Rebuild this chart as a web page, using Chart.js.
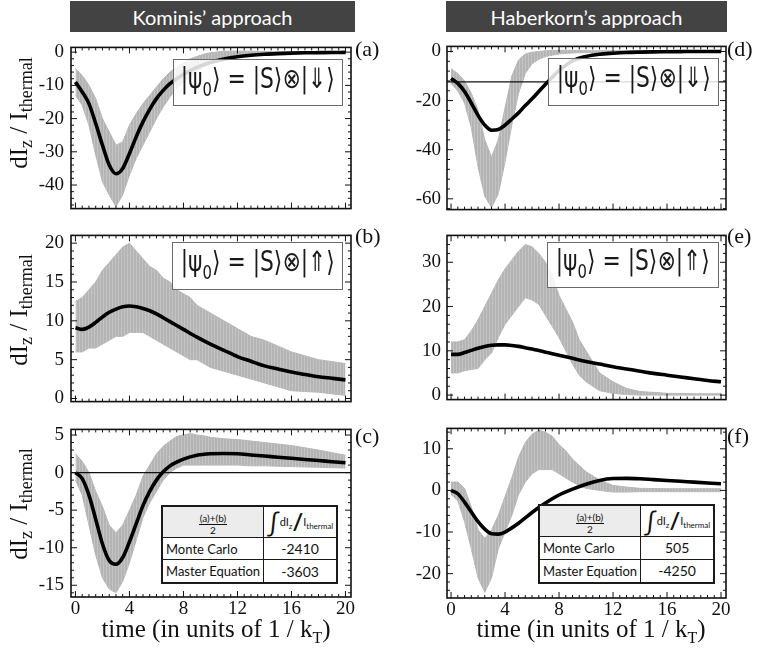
<!DOCTYPE html>
<html>
<head>
<meta charset="utf-8">
<script src="https://cdn.jsdelivr.net/npm/chart.js@4.4.1/dist/chart.umd.min.js"></script>
<style>
body { margin: 0; background: #fff; }
#fig { position: relative; width: 762px; height: 656px; overflow: hidden; background: #fff; }
#fig canvas { position: absolute; }
.head { position: absolute; top: 1px; height: 31px; background: #434343; color: #fff;
        font: 20px Lato, sans-serif; display: flex; align-items: center; justify-content: center; }
.plab { position: absolute; font: 22px "Liberation Serif", serif; line-height: 1; color: #111; }
.ytit { position: absolute; font: 25px "Liberation Serif", serif; white-space: nowrap; color: #111;
        transform: translate(-50%, -50%) rotate(-90deg); line-height: 1; }
.ytit sub { font-size: 18px; vertical-align: -5px; }
.xtit { position: absolute; font: 25px "Liberation Serif", serif; white-space: nowrap; color: #111;
        transform: translate(-50%, -50%); line-height: 1; }
.xtit sub { font-size: 16px; vertical-align: -6px; }
.ket { position: absolute; box-sizing: border-box; border: 1px solid #6a6a6a; background: rgba(255,255,255,0.84);
       display: flex; align-items: center; justify-content: center; overflow: hidden; }
.ket span.k { display: inline-block; font: 28px "DejaVu Sans", sans-serif; white-space: nowrap; color: #1a1a1a;
              transform: scaleX(0.78); line-height: 1; margin-top: -2px; }
.ket sub { font-size: 19px; vertical-align: -8px; }
table.res { position: absolute; border-collapse: collapse; border: 2px solid #1a1a1a; background: #fff;
            font: 13px Lato, sans-serif; color: #111; }
table.res td { border: 1.5px solid #1a1a1a; padding: 0 3px; white-space: nowrap; }
table.res td.hd { background: #ececec; text-align: center; }
table.res td.v { text-align: center; font-size: 14px; }
.frac { display: inline-flex; flex-direction: column; align-items: center; font-size: 10px; line-height: 1.1; }
.frac .num { border-bottom: 1px solid #111; padding: 0 1px; }
.intg { font-size: 11px; }
.intg .ig { font-size: 25px; vertical-align: -6px; }
.intg .sl { font-size: 23px; font-weight: bold; vertical-align: -4px; }
.intg sub { font-size: 8px; }
</style>
</head>
<body>
<div id="fig">
  <div class="head" style="left:70px;width:285px">Kominis’ approach</div>
  <div class="head" style="left:446px;width:281px">Haberkorn’s approach</div>

  <canvas id="ca"></canvas>
  <canvas id="cb"></canvas>
  <canvas id="cc"></canvas>
  <canvas id="cd"></canvas>
  <canvas id="ce"></canvas>
  <canvas id="cf"></canvas>

  <div class="ytit" style="left:20px;top:113px">dI<sub>z</sub> / I<sub>thermal</sub></div>
  <div class="ytit" style="left:20px;top:310px">dI<sub>z</sub> / I<sub>thermal</sub></div>
  <div class="ytit" style="left:20px;top:504px">dI<sub>z</sub> / I<sub>thermal</sub></div>

  <div class="xtit" style="left:216px;top:631px">time (in units of 1 / k<sub>T</sub>)</div>
  <div class="xtit" style="left:591px;top:631px">time (in units of 1 / k<sub>T</sub>)</div>

  <div class="plab" style="left:355px;top:38px">(a)</div>
  <div class="plab" style="left:355px;top:225px">(b)</div>
  <div class="plab" style="left:355px;top:425px">(c)</div>
  <div class="plab" style="left:727px;top:38px">(d)</div>
  <div class="plab" style="left:727px;top:225px">(e)</div>
  <div class="plab" style="left:727px;top:425px">(f)</div>

  <div class="ket" style="left:173px;top:59px;width:170px;height:47px"><span class="k">|ψ<sub>0</sub>⟩ = |S⟩⊗|⇓⟩</span></div>
  <div class="ket" style="left:172px;top:242px;width:171px;height:48px"><span class="k">|ψ<sub>0</sub>⟩ = |S⟩⊗|⇑⟩</span></div>
  <div class="ket" style="left:548px;top:58px;width:171px;height:48px"><span class="k">|ψ<sub>0</sub>⟩ = |S⟩⊗|⇓⟩</span></div>
  <div class="ket" style="left:547px;top:242px;width:172px;height:46px"><span class="k">|ψ<sub>0</sub>⟩ = |S⟩⊗|⇑⟩</span></div>

  <table class="res" style="left:161px;top:505px;width:172px;height:79px">
    <tr style="height:30px"><td class="hd" style="width:84px"><span class="frac"><span class="num">(a)+(b)</span><span>2</span></span></td>
      <td class="intg"><span class="ig">∫</span>dI<sub>z</sub><span class="sl">/</span>I<sub>thermal</sub></td></tr>
    <tr><td>Monte Carlo</td><td class="v">-2410</td></tr>
    <tr><td>Master Equation</td><td class="v">-3603</td></tr>
  </table>
  <table class="res" style="left:538px;top:504px;width:175px;height:80px">
    <tr style="height:31px"><td class="hd" style="width:85px"><span class="frac"><span class="num">(a)+(b)</span><span>2</span></span></td>
      <td class="intg"><span class="ig">∫</span>dI<sub>z</sub><span class="sl">/</span>I<sub>thermal</sub></td></tr>
    <tr><td>Monte Carlo</td><td class="v">505</td></tr>
    <tr><td>Master Equation</td><td class="v">-4250</td></tr>
  </table>
</div>

<script>
// time grid of the smooth master-equation curves
const tLine = [0, 0.5, 1, 1.5, 2, 2.5, 3, 3.5, 4, 4.5, 5, 5.5, 6, 6.5, 7, 7.5, 8, 9, 10, 11, 12, 13, 14, 15, 16, 17, 18, 19, 20];
const blackA = [-9, -12, -15.5, -21.5, -28, -34, -36.6, -35, -30.5, -25.5, -21, -17.2, -14, -11.5, -9.5, -8, -6.7, -4.6, -3.1, -2.1, -1.4, -0.95, -0.65, -0.45, -0.3, -0.2, -0.15, -0.1, -0.08];
const blackB = [9.1, 8.9, 9.2, 9.8, 10.5, 11.1, 11.5, 11.8, 11.9, 11.8, 11.6, 11.3, 10.9, 10.4, 9.9, 9.4, 8.9, 7.9, 7.0, 6.2, 5.4, 4.8, 4.2, 3.8, 3.4, 3.1, 2.8, 2.6, 2.4];
const blackC = [0, -0.8, -3, -6.2, -9.5, -11.7, -12.2, -11.3, -9.2, -6.8, -4.4, -2.5, -1, 0.1, 0.9, 1.4, 1.8, 2.3, 2.5, 2.55, 2.5, 2.35, 2.2, 2.05, 1.9, 1.75, 1.6, 1.45, 1.3];
const blackD = [-11, -13, -16.3, -21, -26, -30, -32.1, -31.8, -30, -27.5, -25, -22, -19.3, -16.3, -13.3, -10.5, -7.8, -3.8, -2, -1.1, -0.7, -0.4, -0.25, -0.15, -0.1, -0.05, 0, 0, 0];
const blackE = [9.2, 9.2, 9.6, 10.1, 10.6, 11.0, 11.25, 11.35, 11.35, 11.2, 11.0, 10.7, 10.4, 10.05, 9.7, 9.35, 9.0, 8.3, 7.6, 7.0, 6.4, 5.9, 5.4, 4.9, 4.5, 4.1, 3.7, 3.3, 3.0];
const blackF = [0, -0.8, -2.8, -5.2, -7.5, -9.3, -10.4, -10.5, -10, -9, -7.9, -6.6, -5.3, -4.1, -3, -2, -1.1, 0.3, 1.5, 2.4, 2.85, 2.9, 2.8, 2.6, 2.4, 2.2, 2.0, 1.8, 1.6];

// time grid of the Monte Carlo band (upper / lower edge of the noisy trace)
const tBand = [0, 0.5, 1, 1.5, 2, 2.5, 3, 3.5, 4, 4.5, 5, 5.5, 6, 6.5, 7, 7.5, 8, 8.5, 9, 9.5, 10, 11, 12, 13, 14, 16, 18, 20];
const grayHiA = [-5, -7, -10, -14, -20, -24, -28, -27, -22, -18.5, -15.5, -13, -10.5, -8, -6, -4.5, -3.2, -2, -1.3, -0.6, -0.2, 0.3, 0.3, 0.3, 0.2, 0.1, 0.1, 0.1];
const grayLoA = [-13, -16, -22, -31, -39, -43, -46.5, -43, -37, -32, -28, -24, -20, -16.5, -13.5, -11, -9, -7.5, -6, -4.5, -3.5, -2, -1.3, -0.9, -0.6, -0.4, -0.3, -0.2];
const grayHiB = [12.5, 13, 14, 15, 16.5, 17.5, 18.5, 19.5, 20, 19, 18, 17, 16.5, 15.5, 15, 14, 13.5, 13, 12, 11.5, 11, 10, 9, 8, 7.5, 6, 5, 4.5];
const grayLoB = [6, 6, 6.5, 6.5, 7, 7.5, 8, 8, 8.5, 8.5, 8.5, 8, 7.5, 7, 6.5, 6, 5.5, 5, 5, 4.5, 4, 3.5, 3, 2.5, 2, 1, 0.8, 0.4];
const grayHiC = [2.5, 1.5, 0, -2.5, -4.5, -7, -8, -7, -5, -3, -0.5, 1, 2.5, 3.5, 4.2, 4.8, 5, 5.2, 5, 4.9, 4.7, 4.5, 4.4, 4.2, 4, 3.6, 3, 2.3];
const grayLoC = [-1, -3, -7, -11, -14, -15.5, -16, -14.5, -12, -9, -6, -4, -2.5, -1, 0, 0.6, 1, 1, 1, 1, 1, 1, 1, 0.9, 0.9, 0.8, 0.7, 0.6];
const grayHiD = [-7, -9, -12, -17, -24, -36, -43, -36, -23, -10, -3.5, -1, -0.3, 0, 0.3, 0.4, 0.5, 0.5, 0.5, 0.4, 0.3, 0.3, 0.3, 0.3, 0.3, 0.3, 0.3, 0.3];
const grayLoD = [-13, -16, -21, -31, -47, -59, -63.5, -58, -45, -30, -17, -9, -5, -3.2, -2, -1.5, -1, -0.8, -0.6, -0.5, -0.4, -0.3, -0.3, -0.3, -0.3, -0.3, -0.3, -0.3];
const grayHiE = [12, 12, 12.5, 14.5, 17, 20, 23, 26, 28.5, 30.5, 32.5, 34, 33.5, 32, 30, 27, 22.5, 19.5, 16.5, 12.5, 10, 5, 3, 1.5, 0.8, 0.4, 0.3, 0.3];
const grayLoE = [5, 5, 5.5, 5.8, 6, 8, 9.5, 13, 16, 18, 20, 22, 21.5, 20.5, 18, 15.5, 13, 10, 7, 4.5, 3, 1, 0.4, 0.1, 0, 0, 0, 0];
const grayHiF = [2, 2, 0.5, -4, -9.5, -11.5, -9.5, -6, -1.5, 3, 8, 11.5, 13.5, 14.5, 14, 13, 11, 9.5, 7.5, 6, 4.5, 2.5, 1.2, 0.8, 0.5, 0.4, 0.4, 0.4];
const grayLoF = [-1, -2.5, -7.5, -14, -21, -24.5, -21, -14, -10, -6, -1, 2, 4, 5, 5, 5, 4, 3, 2, 1.2, 0.5, 0, -0.4, -0.4, -0.3, -0.3, -0.3, -0.3];

// thin horizontal reference lines
const refLineC = 0;
const refLineD = -12.4;

// tick labels
const xTickVals = [0, 4, 8, 12, 16, 20];
const yTicksA = [-40, -30, -20, -10, 0];
const yTicksB = [0, 5, 10, 15, 20];
const yTicksC = [-15, -10, -5, 0, 5];
const yTicksD = [-60, -40, -20, 0];
const yTicksE = [0, 10, 20, 30];
const yTicksF = [-20, -10, 0, 10];

const GRAY = '#b7b7b7';
const TICK_FONT = { family: 'Liberation Serif', size: 19 };

// fine vertical streaks so the Monte Carlo band reads like a dense noisy trace
function streakPattern(ctx) {
    const c = document.createElement('canvas');
    c.width = 3; c.height = 1;
    const g = c.getContext('2d');
    g.fillStyle = '#b4b4b4';
    g.fillRect(0, 0, 3, 1);
    g.fillStyle = '#c4c4c4';
    g.fillRect(2, 0, 1, 1);
    return ctx.createPattern(c, 'repeat');
}

// frame with inward major/minor ticks on all four sides
const frameTicks = {
    id: 'frameTicks',
    afterDatasetsDraw(chart, args, opts) {
        const ctx = chart.ctx;
        const a = chart.chartArea;
        const x = chart.scales.x, y = chart.scales.y;
        ctx.save();
        ctx.strokeStyle = '#111';
        ctx.lineWidth = 1;
        ctx.beginPath();
        for (let v = Math.ceil(x.min / opts.xMinor) * opts.xMinor; v <= x.max; v += opts.xMinor) {
            const px = x.getPixelForValue(v);
            const len = x.ticks.some(t => Math.abs(t.value - v) < 1e-6) ? 6 : 3;
            ctx.moveTo(px, a.bottom); ctx.lineTo(px, a.bottom - len);
            ctx.moveTo(px, a.top); ctx.lineTo(px, a.top + len);
        }
        for (let v = Math.ceil(y.min / opts.yMinor) * opts.yMinor; v <= y.max; v += opts.yMinor) {
            const py = y.getPixelForValue(v);
            const len = y.ticks.some(t => Math.abs(t.value - v) < 1e-6) ? 6 : 3;
            ctx.moveTo(a.left, py); ctx.lineTo(a.left + len, py);
            ctx.moveTo(a.right, py); ctx.lineTo(a.right - len, py);
        }
        ctx.stroke();
        ctx.lineWidth = 1.6;
        ctx.strokeRect(a.left, a.top, a.right - a.left, a.bottom - a.top);
        ctx.restore();
    }
};

const panels = [
    { id: 'ca', frame: [71, 43, 280, 170], yw: 45, xr: [-0.33, 20.41], yr: [-47.1, 1.43], yt: yTicksA, ym: 2, hi: grayHiA, lo: grayLoA, line: blackA, bottom: false },
    { id: 'cb', frame: [71, 231, 280, 175], yw: 45, xr: [-0.33, 20.41], yr: [-0.4, 21.0], yt: yTicksB, ym: 1, hi: grayHiB, lo: grayLoB, line: blackB, bottom: false },
    { id: 'cc', frame: [71, 425, 280, 172], yw: 45, xr: [-0.33, 20.41], yr: [-16.56, 5.75], yt: yTicksC, ym: 1, hi: grayHiC, lo: grayLoC, line: blackC, bottom: true, ref: refLineC },
    { id: 'cd', frame: [447, 43, 279, 170], yw: 41, xr: [-0.3, 20.37], yr: [-64.4, 2.07], yt: yTicksD, ym: 4, hi: grayHiD, lo: grayLoD, line: blackD, bottom: false, ref: refLineD },
    { id: 'ce', frame: [447, 232, 279, 171], yw: 41, xr: [-0.3, 20.37], yr: [-1.02, 36.07], yt: yTicksE, ym: 2, hi: grayHiE, lo: grayLoE, line: blackE, bottom: false },
    { id: 'cf', frame: [447, 425, 279, 173], yw: 41, xr: [-0.3, 20.37], yr: [-25.85, 14.9], yt: yTicksF, ym: 2, hi: grayHiF, lo: grayLoF, line: blackF, bottom: true }
];

const PAD_T = 14, PAD_R = 16, PAD_B = 14, X_H = 24;

panels.forEach(function(p) {
    const cv = document.getElementById(p.id);
    const w = p.yw + p.frame[2] + PAD_R;
    const h = PAD_T + p.frame[3] + (p.bottom ? X_H : PAD_B);
    cv.style.left = (p.frame[0] - p.yw) + 'px';
    cv.style.top = (p.frame[1] - PAD_T) + 'px';
    cv.style.width = w + 'px';
    cv.style.height = h + 'px';
    cv.width = w;
    cv.height = h;
    const streaks = streakPattern(cv.getContext('2d'));

    let datasets = [
        { data: tBand.map((t, i) => ({ x: t, y: p.hi[i] })), borderColor: GRAY, backgroundColor: streaks, borderWidth: 1, fill: '+1', order: 3 },
        { data: tBand.map((t, i) => ({ x: t, y: p.lo[i] })), borderColor: GRAY, borderWidth: 1, fill: false, order: 3 },
        { data: tLine.map((t, i) => ({ x: t, y: p.line[i] })), borderColor: '#000', borderWidth: 3.6, fill: false, order: 1,
          cubicInterpolationMode: 'monotone' }
    ];
    if (p.ref !== undefined) {
        datasets.push({ data: [{ x: -1, y: p.ref }, { x: 21, y: p.ref }], borderColor: '#111', borderWidth: 1.2, fill: false, order: 2 });
    }

    new Chart(cv, {
        type: 'line',
        data: { datasets: datasets },
        plugins: [frameTicks],
        options: {
            responsive: false,
            animation: false,
            devicePixelRatio: 1,
            layout: { padding: { top: PAD_T, right: PAD_R, bottom: p.bottom ? 0 : PAD_B, left: 0 } },
            elements: { point: { radius: 0 }, line: { tension: 0 } },
            plugins: {
                legend: { display: false },
                tooltip: { enabled: false },
                frameTicks: { xMinor: 0.5, yMinor: p.ym }
            },
            scales: {
                x: {
                    type: 'linear', min: p.xr[0], max: p.xr[1],
                    grid: { display: false, drawTicks: false },
                    border: { display: false },
                    afterBuildTicks: s => { s.ticks = xTickVals.map(v => ({ value: v })); },
                    afterFit: s => { s.height = p.bottom ? X_H : 0; },
                    ticks: { display: p.bottom, padding: 1, color: '#111', font: TICK_FONT, maxRotation: 0 }
                },
                y: {
                    type: 'linear', min: p.yr[0], max: p.yr[1],
                    grid: { display: false, drawTicks: false },
                    border: { display: false },
                    afterBuildTicks: s => { s.ticks = p.yt.map(v => ({ value: v })); },
                    afterFit: s => { s.width = p.yw; },
                    ticks: { padding: p.yw === 45 ? 7 : 6, color: '#111', font: TICK_FONT }
                }
            }
        }
    });
});
</script>
</body>
</html>
